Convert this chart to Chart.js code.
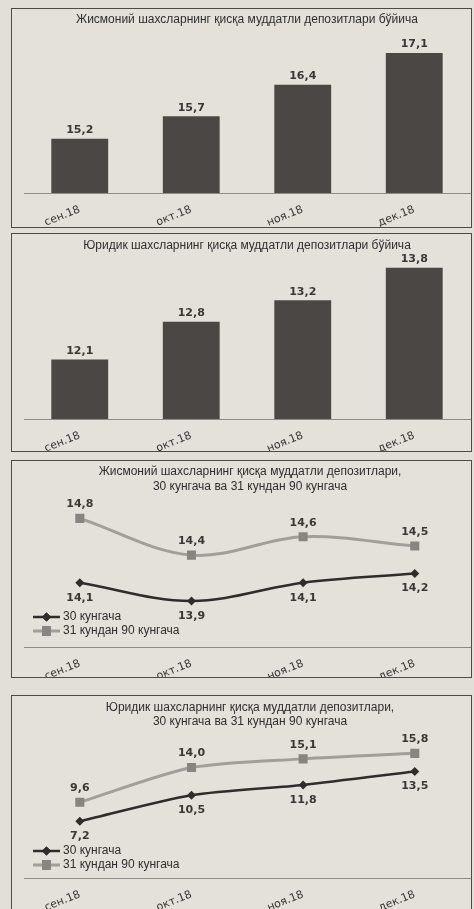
<!DOCTYPE html>
<html>
<head>
<meta charset="utf-8">
<script src="https://cdn.jsdelivr.net/npm/chart.js@4/dist/chart.umd.min.js"></script>
<style>
  html, body { margin: 0; padding: 0; overflow: hidden; }
  body { width: 474px; height: 909px; background: #e2dfd9; position: relative; }
  .box { position: absolute; left: 11px; border: 1px solid #4d4b48; background: #e4e1db; overflow: hidden; }
  .box canvas { display: block; }
</style>
</head>
<body>
<div class="box" style="top:8px;width:459px;height:218px"><canvas id="c1"></canvas></div>
<div class="box" style="top:233px;width:459px;height:217px"><canvas id="c2"></canvas></div>
<div class="box" style="top:460px;width:459px;height:216px"><canvas id="c3"></canvas></div>
<div class="box" style="top:695px;width:459px;height:220px"><canvas id="c4"></canvas></div>
<script>
// Months on the x axis
const months = ['сен.18', 'окт.18', 'ноя.18', 'дек.18'];

// Short-term deposits, totals
const individualTotal = [15.2, 15.7, 16.4, 17.1];
const legalTotal = [12.1, 12.8, 13.2, 13.8];

// Split by term: up to 30 days / 31 to 90 days
const individualUpTo30 = [14.1, 13.9, 14.1, 14.2];
const individual31to90 = [14.8, 14.4, 14.6, 14.5];
const legalUpTo30 = [7.2, 10.5, 11.8, 13.5];
const legal31to90 = [9.6, 14.0, 15.1, 15.8];

const seriesNames = ['30 кунгача', '31 кундан 90 кунгача'];

const titles = [
  'Жисмоний шахсларнинг қисқа муддатли депозитлари бўйича',
  'Юридик шахсларнинг қисқа муддатли депозитлари бўйича',
  ['Жисмоний шахсларнинг қисқа муддатли депозитлари,', '30 кунгача ва 31 кундан 90 кунгача'],
  ['Юридик шахсларнинг қисқа муддатли депозитлари,', '30 кунгача ва 31 кундан 90 кунгача']
];

var DARK = '#2f2d2b';
var GREY_LINE = '#a29f9b';
var GREY_MARK = '#878481';

// Draw the value next to each bar / point, decimal comma like the original
var valueLabels = {
  id: 'valueLabels',
  afterDatasetsDraw: function (chart) {
    var ctx = chart.ctx;
    ctx.save();
    ctx.font = 'bold 11px "DejaVu Sans", sans-serif';
    ctx.fillStyle = '#3a3836';
    ctx.textAlign = 'center';
    chart.data.datasets.forEach(function (ds, i) {
      var meta = chart.getDatasetMeta(i);
      meta.data.forEach(function (el, j) {
        var txt = ds.data[j].toFixed(1).replace('.', ',');
        if (ds.labelPos === 'below') {
          ctx.textBaseline = 'middle';
          ctx.fillText(txt, el.x, el.y + 15);
        } else if (ds.labelPos === 'above') {
          ctx.textBaseline = 'middle';
          ctx.fillText(txt, el.x, el.y - 14);
        } else {
          ctx.textBaseline = 'bottom';
          ctx.fillText(txt, el.x, el.y - 3);
        }
      });
    });
    ctx.restore();
  }
};

// Legend drawn inside the plot, bottom-left, Excel style (line with marker)
var inlineLegend = {
  id: 'inlineLegend',
  afterDraw: function (chart, args, opts) {
    if (!opts || !opts.display) return;
    var ctx = chart.ctx;
    var y0 = chart.chartArea.bottom - opts.bottom;
    ctx.save();
    chart.data.datasets.forEach(function (ds, i) {
      var y = y0 + i * 14;
      var x = opts.x;
      ctx.strokeStyle = ds.borderColor;
      ctx.lineWidth = ds.borderWidth;
      ctx.beginPath();
      ctx.moveTo(x, y);
      ctx.lineTo(x + 27, y);
      ctx.stroke();
      Chart.helpers.drawPoint(ctx, {
        pointStyle: ds.pointStyle,
        radius: ds.pointRadius,
        borderWidth: 0,
        rotation: 0
      }, x + 13.5, y);
      ctx.fillStyle = ds.pointBackgroundColor;
      ctx.fill();
      ctx.fillStyle = '#2e2e2e';
      ctx.font = '12px "Liberation Sans", Arial, sans-serif';
      ctx.textAlign = 'left';
      ctx.textBaseline = 'middle';
      ctx.fillText(seriesNames[i], x + 30, y);
    });
    ctx.restore();
  }
};

function baseOptions(title, lay, yMin, yMax) {
  return {
    responsive: false,
    animation: false,
    layout: { padding: { left: 12, right: 1, top: 0, bottom: 0 } },
    plugins: {
      legend: { display: false },
      tooltip: { enabled: false },
      title: {
        display: true,
        text: title,
        color: '#2e2e2e',
        font: { family: '"Liberation Sans", Arial, sans-serif', size: 12, weight: 'normal', lineHeight: lay.lineHeight },
        padding: { top: lay.titleTop, bottom: lay.titleBottom }
      },
      inlineLegend: lay.legend
    },
    scales: {
      x: {
        offset: true,
        grid: { display: false },
        border: { display: true, color: '#8e8b87', width: 1 },
        ticks: {
          color: '#333',
          font: { family: '"DejaVu Sans", sans-serif', size: 11 },
          minRotation: 22,
          maxRotation: 22,
          padding: 2
        },
        afterFit: function (scale) { scale.height = lay.axisHeight; }
      },
      y: { display: false, min: yMin, max: yMax }
    }
  };
}

function makeBarChart(id, w, h, title, values, yMin, yMax, lay) {
  var canvas = document.getElementById(id);
  canvas.width = w; canvas.height = h;
  return new Chart(canvas.getContext('2d'), {
    type: 'bar',
    data: {
      labels: months,
      datasets: [{
        data: values,
        backgroundColor: '#4a4744',
        borderWidth: 0,
        barPercentage: 0.51,
        categoryPercentage: 1
      }]
    },
    options: baseOptions(title, lay, yMin, yMax),
    plugins: [valueLabels]
  });
}

function makeLineChart(id, w, h, title, short, longer, yMin, yMax, tension, lay) {
  var canvas = document.getElementById(id);
  // the line chart reserves room for the end markers on the right,
  // so the canvas is a bit wider than its box (box clips the extra)
  canvas.width = w + 6; canvas.height = h;
  return new Chart(canvas.getContext('2d'), {
    type: 'line',
    data: {
      labels: months,
      datasets: [{
        label: seriesNames[0],
        data: short,
        borderColor: DARK,
        borderWidth: 2.5,
        pointStyle: 'rectRot',
        pointRadius: 4.5,
        pointBorderWidth: 0,
        pointBackgroundColor: DARK,
        tension: tension,
        labelPos: 'below'
      }, {
        label: seriesNames[1],
        data: longer,
        borderColor: GREY_LINE,
        borderWidth: 3,
        pointStyle: 'rect',
        pointRadius: 6.4,
        pointBorderWidth: 0,
        pointBackgroundColor: GREY_MARK,
        tension: tension,
        labelPos: 'above'
      }]
    },
    options: baseOptions(title, lay, yMin, yMax),
    plugins: [valueLabels, inlineLegend]
  });
}

window.addEventListener('DOMContentLoaded', function () {
  makeBarChart('c1', 459, 218, titles[0], individualTotal, 14, 17.5,
    { lineHeight: 1.2, titleTop: 3, titleBottom: 8.6, axisHeight: 34 });
  makeBarChart('c2', 459, 217, titles[1], legalTotal, 11, 14,
    { lineHeight: 1.2, titleTop: 4, titleBottom: 4.6, axisHeight: 32 });
  makeLineChart('c3', 459, 216, titles[2], individualUpTo30, individual31to90, 13.4, 15.0, 0.35,
    { lineHeight: 1.25, titleTop: 3, titleBottom: 6, axisHeight: 30,
      legend: { display: true, x: 21, bottom: 30 } });
  makeLineChart('c4', 459, 220, titles[3], legalUpTo30, legal31to90, 0, 18, 0.25,
    { lineHeight: 1.15, titleTop: 5, titleBottom: 7.4, axisHeight: 38,
      legend: { display: true, x: 21, bottom: 27 } });
});
</script>
</body>
</html>
